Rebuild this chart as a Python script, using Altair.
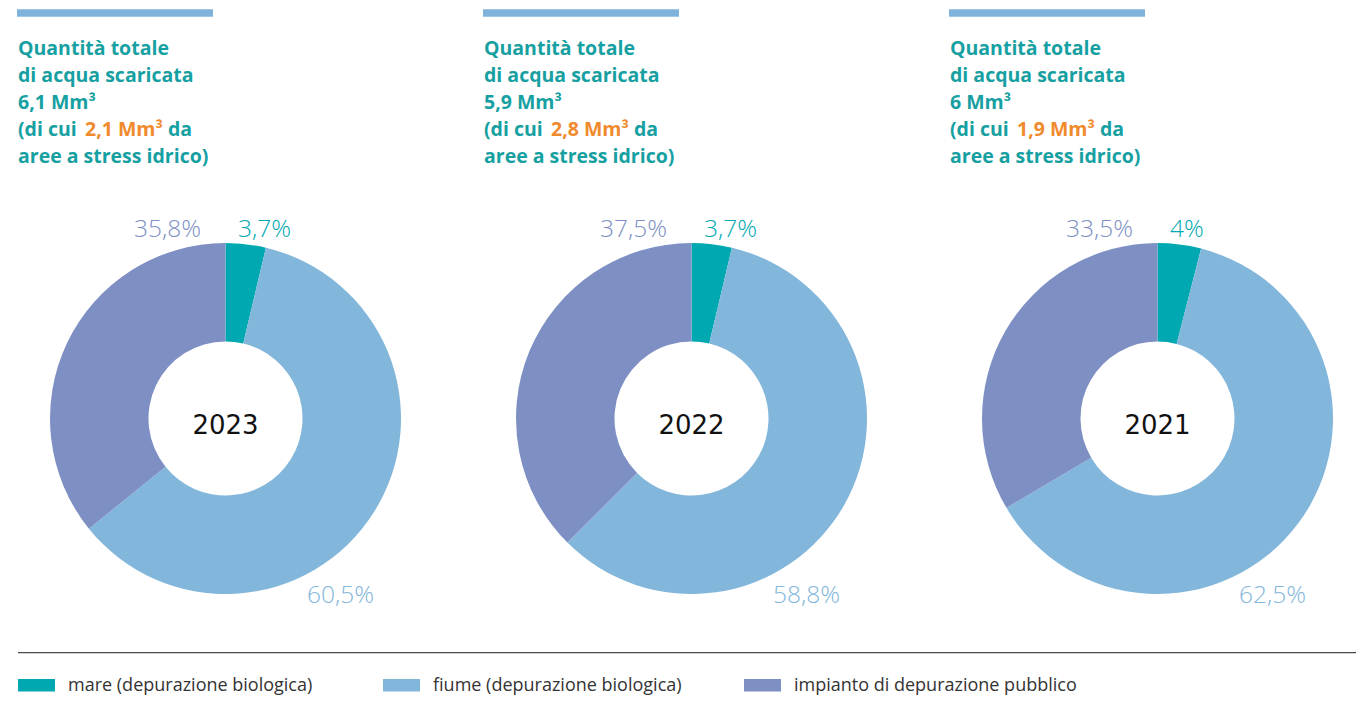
import altair as alt
import pandas as pd

# ---- data ----
years = ["2023", "2022", "2021"]
categories = ["mare (depurazione biologica)", "fiume (depurazione biologica)", "impianto di depurazione pubblico"]
mare = [3.7, 3.7, 4.0]
fiume = [60.5, 58.8, 62.5]
impianto = [35.8, 37.5, 33.5]
totale = ["6,1", "5,9", "6"]
stress = ["2,1", "2,8", "1,9"]

colors = ["#00A9B1", "#82B6DB", "#7E8FC4"]
TEAL = "#16A0A2"
ORANGE = "#F08A2C"


def fmt(v):
    s = f"{v:.1f}"
    if s.endswith(".0"):
        s = s[:-2]
    return s.replace(".", ",") + "%"


rows = []
for i, y in enumerate(years):
    for j, (c, arr) in enumerate(zip(categories, [mare, fiume, impianto])):
        rows.append({"year": y, "cat": c, "value": arr[i], "ord": j, "label": fmt(arr[i])})
df = pd.DataFrame(rows)
tdf = pd.DataFrame({"year": years, "totale": totale, "stress": stress})
dummy = pd.DataFrame({"a": [1]})

layers = []
PANEL = 466
CY = 410.5

for i, y in enumerate(years):
    cx = 217.5 + PANEL * i
    ox = 10 + PANEL * i
    # top bar
    layers.append(
        alt.Chart(dummy).mark_rect(color="#7FB3DC").encode(
            x=alt.value(9 + PANEL * i), x2=alt.value(205 + PANEL * i),
            y=alt.value(1.3), y2=alt.value(8.7))
    )
    # donut
    layers.append(
        alt.Chart(df).transform_filter(alt.datum.year == y)
        .mark_arc(innerRadius=77, outerRadius=175.5, stroke=None)
        .encode(
            theta=alt.Theta("value:Q", stack=True),
            color=alt.Color("cat:N", scale=alt.Scale(domain=categories, range=colors), legend=None),
            order=alt.Order("ord:Q"),
            x=alt.value(cx), y=alt.value(CY))
    )
    # labels
    specs = [
        (categories[0], "left", cx + 12.5, 229, colors[0]),
        (categories[1], "left", cx + 81.5, 595, colors[1]),
        (categories[2], "right", cx - 24.5, 229, colors[2]),
    ]
    for cat, al, lx, ly, col in specs:
        layers.append(
            alt.Chart(df).transform_filter((alt.datum.year == y) & (alt.datum.cat == cat))
            .mark_text(align=al, baseline="alphabetic", font="Open Sans", fontWeight=300,
                       fontSize=24.5, color=col)
            .encode(text="label:N", x=alt.value(lx), y=alt.value(ly))
        )
    # year in center
    layers.append(
        alt.Chart(tdf).transform_filter(alt.datum.year == y)
        .mark_text(align="center", baseline="alphabetic", font="DejaVu Sans", fontSize=26, color="#111111")
        .encode(text="year:N", x=alt.value(cx), y=alt.value(426))
    )
    # title
    base = alt.Chart(tdf).transform_filter(alt.datum.year == y).transform_calculate(
        tot=alt.datum.totale + " Mm³", st=alt.datum.stress + " Mm³")
    tstyle = dict(baseline="alphabetic", align="left", font="Open Sans", fontWeight="bold", fontSize=19.5)
    layers.append(base.mark_text(color=TEAL, **tstyle).encode(
        text=alt.value("Quantità totale"), x=alt.value(ox), y=alt.value(47)))
    layers.append(base.mark_text(color=TEAL, **tstyle).encode(
        text=alt.value("di acqua scaricata"), x=alt.value(ox), y=alt.value(74)))
    layers.append(base.mark_text(color=TEAL, **tstyle).encode(
        text="tot:N", x=alt.value(ox), y=alt.value(101)))
    layers.append(base.mark_text(color=TEAL, **tstyle).encode(
        text=alt.value("(di cui"), x=alt.value(ox), y=alt.value(128)))
    layers.append(base.mark_text(color=ORANGE, **tstyle).encode(
        text="st:N", x=alt.value(ox + 67), y=alt.value(128)))
    layers.append(base.mark_text(color=TEAL, **tstyle).encode(
        text=alt.value("da"), x=alt.value(ox + 150), y=alt.value(128)))
    layers.append(base.mark_text(color=TEAL, **tstyle).encode(
        text=alt.value("aree a stress idrico)"), x=alt.value(ox), y=alt.value(155)))

# bottom rule
layers.append(
    alt.Chart(dummy).mark_rule(color="#4a4a4a", strokeWidth=1.3).encode(
        x=alt.value(10), x2=alt.value(1348), y=alt.value(644.7))
)

# legend
leg_x = [10, 375, 736]
for j, c in enumerate(categories):
    layers.append(
        alt.Chart(dummy).mark_rect(color=colors[j]).encode(
            x=alt.value(leg_x[j]), x2=alt.value(leg_x[j] + 37),
            y=alt.value(671), y2=alt.value(683.5))
    )
    layers.append(
        alt.Chart(dummy).mark_text(align="left", baseline="alphabetic", font="Open Sans",
                                   fontSize=18, color="#333333").encode(
            text=alt.value(c), x=alt.value(leg_x[j] + 50), y=alt.value(683))
    )

chart = alt.layer(*layers).properties(
    width=1348, height=688, padding=0, autosize="none"
).configure_view(stroke=None)

chart.save("out.html", embed_options={"renderer": "svg", "actions": False})
